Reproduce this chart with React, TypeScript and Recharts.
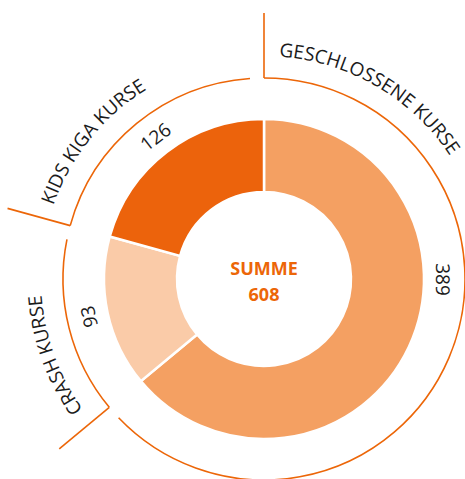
import React from 'react';
import { PieChart, Pie, Cell } from 'recharts';

// Kursarten und Anzahl
const categories = ['GESCHLOSSENE KURSE', 'CRASH KURSE', 'KIDS KIGA KURSE'];
const values = [389, 93, 126];
const totalLabel = 'SUMME';

const sliceColors = ['#F4A062', '#FACBA8', '#EC630C'];
const ORANGE = '#EC6608';
const TEXT = '#1b1b1b';
// the big slice shows its number at 3 o'clock instead of the middle of the slice
const valueAngleShift = [25, 0, 0];

const data = categories.map((name, i) => ({ name, value: values[i] }));
const total = values.reduce((a, b) => a + b, 0);

const RAD = Math.PI / 180;
const polar = (cx: number, cy: number, r: number, deg: number) => ({
  x: cx + r * Math.cos(-deg * RAD),
  y: cy + r * Math.sin(-deg * RAD),
});

// outer ring with ticks, curved titles and the values
const renderRing = (props: any) => {
  const { cx, cy, startAngle, endAngle, midAngle, outerRadius, index, value, name } = props;
  const ringR = outerRadius + 41;
  const tickR = outerRadius + 106;
  const textR = outerRadius + 63;
  const numR = outerRadius + 19;
  const arcEnd = endAngle + 4; // leave a small gap before the next tick

  const a0 = polar(cx, cy, ringR, startAngle);
  const a1 = polar(cx, cy, ringR, arcEnd);
  const t0 = polar(cx, cy, tickR, startAngle);
  const large = startAngle - arcEnd > 180 ? 1 : 0;

  const p0 = polar(cx, cy, textR, startAngle);
  const p1 = polar(cx, cy, textR, arcEnd);

  const numAngle = midAngle + valueAngleShift[index];
  const n = polar(cx, cy, numR, numAngle);
  const id = `ring-text-${index}`;

  return (
    <g>
      <path
        d={`M${a0.x},${a0.y} A${ringR},${ringR} 0 ${large} 1 ${a1.x},${a1.y}`}
        fill="none"
        stroke={ORANGE}
        strokeWidth={1.6}
      />
      <line x1={a0.x} y1={a0.y} x2={t0.x} y2={t0.y} stroke={ORANGE} strokeWidth={1.6} />
      <path id={id} d={`M${p0.x},${p0.y} A${textR},${textR} 0 ${large} 1 ${p1.x},${p1.y}`} fill="none" stroke="none" />
      <text fontFamily="'Open Sans', sans-serif" fontSize={19} fill={TEXT}>
        <textPath href={`#${id}`} startOffset={15}>
          {name}
        </textPath>
      </text>
      <text
        x={n.x}
        y={n.y}
        transform={`rotate(${90 - numAngle} ${n.x} ${n.y})`}
        textAnchor="middle"
        dominantBaseline="central"
        fontFamily="'Open Sans', sans-serif"
        fontSize={19}
        fill={TEXT}
      >
        {value}
      </text>
      {index === 0 && (
        <g fontFamily="'Open Sans', sans-serif" fontWeight={700} fontSize={18} fill={ORANGE} textAnchor="middle">
          <text x={cx} y={cy - 4}>{totalLabel}</text>
          <text x={cx} y={cy + 22}>{total}</text>
        </g>
      )}
    </g>
  );
};

export default function App() {
  return (
    <div style={{ position: 'absolute', left: 0, top: 0, width: 465, height: 479, background: '#fff' }}>
      <PieChart width={465} height={479} margin={{ top: 0, right: 0, bottom: 0, left: 0 }}>
        <Pie
          data={data}
          dataKey="value"
          nameKey="name"
          cx={264}
          cy={279}
          innerRadius={87}
          outerRadius={160}
          startAngle={90}
          endAngle={-270}
          stroke="#ffffff"
          strokeWidth={2.5}
          label={renderRing}
          labelLine={false}
          isAnimationActive={false}
        >
          {data.map((d, i) => (
            <Cell key={d.name} fill={sliceColors[i]} />
          ))}
        </Pie>
      </PieChart>
    </div>
  );
}
